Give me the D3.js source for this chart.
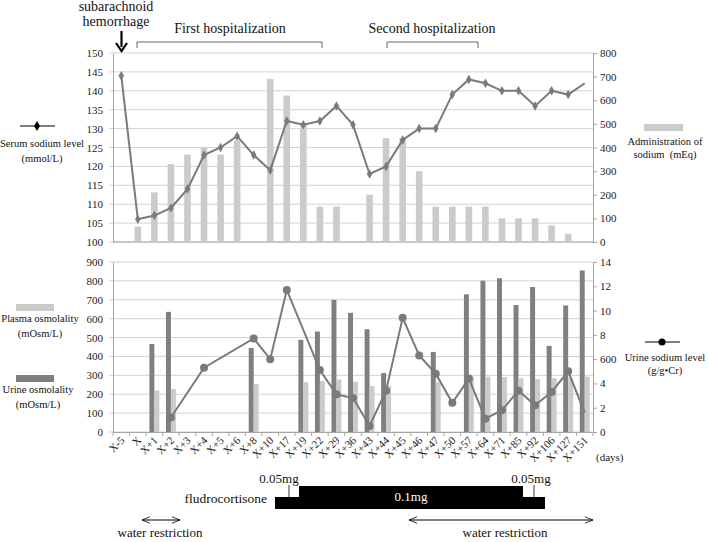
<!DOCTYPE html>
<html><head><meta charset="utf-8">
<script src="https://cdn.jsdelivr.net/npm/d3@7"></script>
</head>
<body style="margin:0;background:#fff"><svg id="c" width="708" height="542"></svg>
<script>
const categories = ["X-5","X","X+1","X+2","X+3","X+4","X+5","X+6","X+8","X+10","X+17","X+19","X+22","X+29","X+36","X+43","X+44","X+45","X+46","X+47","X+50","X+57","X+64","X+71","X+85","X+92","X+106","X+127","X+151"];
const serumSodium = [144,106,107,109,114,123,125,128,123,119,132,131,132,136,131,118,120,127,130,130,139,143,142,140,140,136,140,139,142];
const sodiumAdmin = [null,65,210,330,370,400,370,430,null,690,620,500,150,150,null,200,440,440,300,150,150,150,150,100,100,100,70,35,null];
const plasmaOsm = [null,null,220,227,null,null,null,null,254,null,null,264,270,278,266,243,245,null,null,262,null,293,293,291,285,280,285,287,293];
const urineOsm = [null,null,466,636,null,null,null,null,445,null,null,488,532,700,631,544,312,null,null,424,null,729,801,814,672,768,456,670,855];
const urineSodium = [null,null,null,1.2,null,5.3,null,null,7.7,6.0,11.7,null,5.1,3.1,2.8,0.5,3.4,9.4,6.3,4.8,2.4,4.4,1.1,1.8,3.4,2.2,3.3,5.0,1.6];
const topLeftTicks = [100,105,110,115,120,125,130,135,140,145,150];
const topRightTicks = [0,100,200,300,400,500,600,700,800];
const botLeftTicks = [0,100,200,300,400,500,600,700,800,900];
const botRightTicks = [0,2,4,6,8,10,12,14];
const botRightLabels = ["0","2","4","600","8","10","12","14"];

const FONT = '"Liberation Serif"';
const svg = d3.select("#c");
const L = 113, R = 593;
const x = d3.scaleBand().domain(categories).range([L, R]);
const yT = d3.scaleLinear().domain([100,150]).range([242,53]);
const yTR = d3.scaleLinear().domain([0,800]).range([242,53]);
const yB = d3.scaleLinear().domain([0,900]).range([432,262]);
const yBR = d3.scaleLinear().domain([0,14]).range([432,262]);
const cx = i => x(categories[i]) + x.bandwidth()/2;

const LIGHT = "#cbcbcb", DARK = "#808080", LINE = "#7a7a7a", GRID = "#d3d3d3", AX = "#a6a6a6", TXT = "#222";

function axes(yl, ticksL, yr, ticksR, labelsR){
  const g = svg.append("g");
  g.selectAll(".gl").data(ticksL).join("line")
    .attr("x1", L-4).attr("x2", R).attr("y1", d=>yl(d)).attr("y2", d=>yl(d))
    .attr("stroke", GRID).attr("stroke-width",1);
  const la = d3.axisLeft(yl).tickValues(ticksL).tickSize(0).tickPadding(10);
  const gl = svg.append("g").attr("transform",`translate(${L},0)`).call(la);
  gl.attr("font-family", null);
  gl.select(".domain").attr("stroke", AX);
  gl.selectAll("text").attr("font-size",11).attr("fill",TXT);
  const ra = d3.axisRight(yr).tickValues(ticksR).tickSize(4).tickPadding(3);
  if (labelsR) ra.tickFormat((d,i)=>labelsR[i]);
  const gr = svg.append("g").attr("transform",`translate(${R},0)`).call(ra);
  gr.attr("font-family", null);
  gr.select(".domain").attr("stroke", AX);
  gr.selectAll("line").attr("stroke", AX);
  gr.selectAll("text").attr("font-size",11).attr("fill",TXT);
}

// ---------- Top chart ----------
axes(yT, topLeftTicks, yTR, topRightTicks, null);
svg.append("line").attr("x1",L).attr("x2",R).attr("y1",yT(100)).attr("y2",yT(100)).attr("stroke",AX);

const bwTop = x.bandwidth()*0.4;
svg.append("g").selectAll("rect").data(sodiumAdmin.map((v,i)=>({v,i})).filter(d=>d.v!=null)).join("rect")
  .attr("x", d=>cx(d.i)-bwTop/2).attr("width", bwTop)
  .attr("y", d=>yTR(d.v)).attr("height", d=>yTR(0)-yTR(d.v)).attr("fill", LIGHT);

const serumPts = serumSodium.map((v,i)=>({v,i}));
svg.append("path").datum(serumPts)
  .attr("d", d3.line().x(d=>cx(d.i)).y(d=>yT(d.v)))
  .attr("fill","none").attr("stroke",LINE).attr("stroke-width",2);
svg.append("g").selectAll("path").data(serumPts.slice(0,-1)).join("path")
  .attr("d", d3.symbol(d3.symbolDiamond, 26))
  .attr("transform", d=>`translate(${cx(d.i)},${yT(d.v)})`).attr("fill",LINE);

// ---------- Bottom chart ----------
axes(yB, botLeftTicks, yBR, botRightTicks, botRightLabels);
const bwB = x.bandwidth()*0.3;
svg.append("g").selectAll("rect").data(urineOsm.map((v,i)=>({v,i})).filter(d=>d.v!=null)).join("rect")
  .attr("x", d=>cx(d.i)-bwB).attr("width", bwB)
  .attr("y", d=>yB(d.v)).attr("height", d=>yB(0)-yB(d.v)).attr("fill", DARK);
svg.append("g").selectAll("rect").data(plasmaOsm.map((v,i)=>({v,i})).filter(d=>d.v!=null)).join("rect")
  .attr("x", d=>cx(d.i)).attr("width", bwB)
  .attr("y", d=>yB(d.v)).attr("height", d=>yB(0)-yB(d.v)).attr("fill", LIGHT);

const uPts = urineSodium.map((v,i)=>({v,i})).filter(d=>d.v!=null);
svg.append("path").datum(uPts)
  .attr("d", d3.line().x(d=>cx(d.i)).y(d=>yBR(d.v)))
  .attr("fill","none").attr("stroke",LINE).attr("stroke-width",2);
svg.append("g").selectAll("circle").data(uPts.slice(0,-1)).join("circle")
  .attr("cx", d=>cx(d.i)).attr("cy", d=>yBR(d.v)).attr("r",4).attr("fill",LINE);

// x axis
const xa = d3.axisBottom(x).tickSize(0).tickPadding(0);
const gx = svg.append("g").attr("transform",`translate(0,${yB(0)})`).call(xa);
gx.attr("font-family", null);
gx.select(".domain").attr("stroke", AX);
gx.selectAll("text").attr("font-size",11).attr("fill",TXT)
  .attr("text-anchor","end").attr("dy",0)
  .attr("transform","translate(4,9) rotate(-45)");
svg.append("g").selectAll("line").data(d3.range(categories.length+1)).join("line")
  .attr("x1", i=>L+i*x.step()).attr("x2", i=>L+i*x.step())
  .attr("y1", yB(0)).attr("y2", yB(0)+4).attr("stroke", AX);
svg.append("text").attr("x",596).attr("y",461).attr("font-size",11).attr("fill",TXT).text("(days)");

// ---------- Legends ----------
function txt(x0,y0,s,anchor="middle",size=10.5,fill="#111"){
  return svg.append("text").attr("x",x0).attr("y",y0).attr("text-anchor",anchor)
    .attr("font-size",size).attr("fill",fill).text(s);
}
svg.append("line").attr("x1",20).attr("x2",55).attr("y1",126).attr("y2",126).attr("stroke","#000").attr("stroke-width",1);
svg.append("path").attr("d",d3.symbol(d3.symbolDiamond,30)).attr("transform","translate(37,126)").attr("fill","#000");
txt(42,147,"Serum sodium level");
txt(42,162,"(mmol/L)");

svg.append("rect").attr("x",644).attr("y",124).attr("width",39).attr("height",7).attr("fill",LIGHT);
txt(665,145,"Administration of");
txt(665,158,"sodium\u00a0\u00a0(mEq)");

svg.append("rect").attr("x",16).attr("y",304).attr("width",38).attr("height",7).attr("fill",LIGHT);
txt(40,322,"Plasma osmolality");
txt(40,337,"(mOsm/L)");
svg.append("rect").attr("x",16).attr("y",375).attr("width",38).attr("height",7).attr("fill",DARK);
txt(38,393,"Urine osmolality");
txt(38,408,"(mOsm/L)");

svg.append("line").attr("x1",645).attr("x2",680).attr("y1",342).attr("y2",342).attr("stroke","#555").attr("stroke-width",1.5);
svg.append("circle").attr("cx",662).attr("cy",342).attr("r",3.5).attr("fill","#000");
txt(665,361,"Urine sodium level");
txt(665,374,"(g/g\u2022Cr)");

// ---------- Top annotations ----------
txt(116,11,"subarachnoid",  "middle",14);
txt(116,26,"hemorrhage","middle",14);
svg.append("line").attr("x1",121.5).attr("x2",121.5).attr("y1",31).attr("y2",47).attr("stroke","#000").attr("stroke-width",2.2);
svg.append("path").attr("d","M116,43 L121.5,51 L127,43").attr("fill","none").attr("stroke","#000").attr("stroke-width",2.2);

txt(230,33,"First hospitalization","middle",14);
svg.append("path").attr("d","M137,48 V42 H322 V48").attr("fill","none").attr("stroke","#666").attr("stroke-width",1);
txt(432,33,"Second hospitalization","middle",14);
svg.append("path").attr("d","M387,48 V42 H478 V48").attr("fill","none").attr("stroke","#666").attr("stroke-width",1);

// ---------- Bottom annotations ----------
txt(279,483,"0.05mg","middle",13);
txt(531,483,"0.05mg","middle",13);
svg.append("path").attr("d","M275,497 H299 V486 H523 V497 H545 V509 H275 Z").attr("fill","#000");
svg.append("line").attr("x1",289).attr("x2",289).attr("y1",485).attr("y2",497).attr("stroke","#333");
svg.append("line").attr("x1",534).attr("x2",534).attr("y1",485).attr("y2",497).attr("stroke","#333");
txt(411,501,"0.1mg","middle",13,"#fff");
txt(267,503,"fludrocortisone","end",13.5);

svg.append("defs").html('<marker id="ah" viewBox="0 0 10 10" refX="10" refY="5" markerWidth="8" markerHeight="8" orient="auto-start-reverse"><path d="M0,1 L10,5 L0,9" fill="none" stroke="#000" stroke-width="1"/></marker>');
svg.append("line").attr("x1",142).attr("x2",180).attr("y1",520).attr("y2",520).attr("stroke","#000").attr("stroke-width",1)
  .attr("marker-start","url(#ah)").attr("marker-end","url(#ah)");
txt(160,537,"water restriction","middle",13);
svg.append("line").attr("x1",409).attr("x2",593).attr("y1",520).attr("y2",520).attr("stroke","#000").attr("stroke-width",1)
  .attr("marker-start","url(#ah)").attr("marker-end","url(#ah)");
txt(505,537,"water restriction","middle",13);

svg.selectAll("text").style("font-family", FONT);
</script></body></html>
